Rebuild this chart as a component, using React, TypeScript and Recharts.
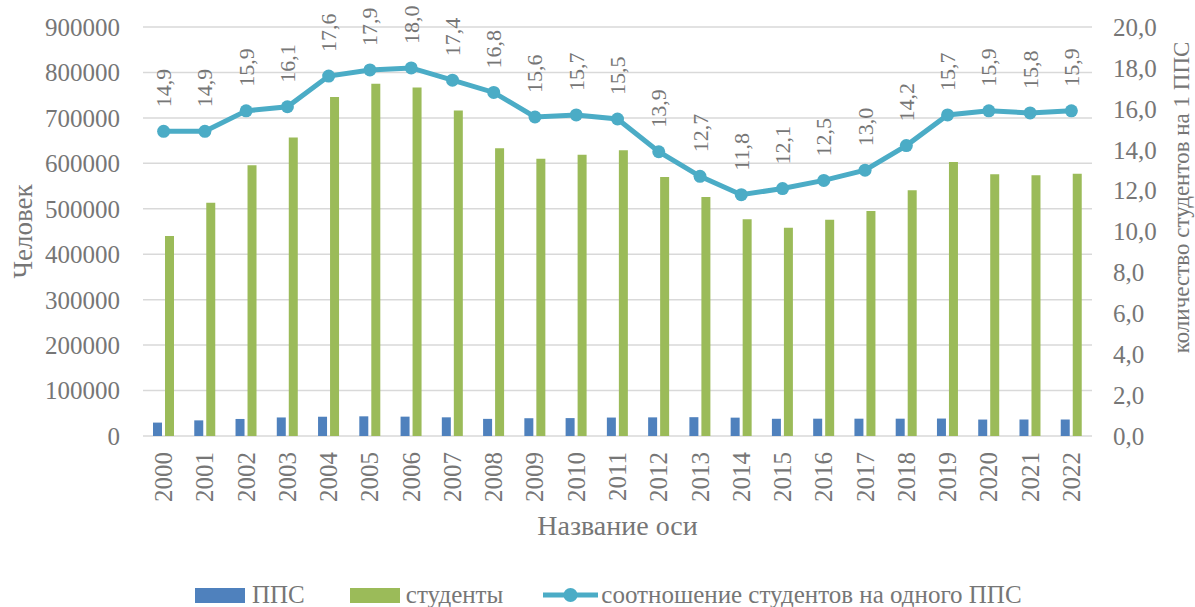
import React from 'react';
import {
  ComposedChart,
  Bar,
  Line,
  XAxis,
  YAxis,
  CartesianGrid,
  Legend,
  LabelList,
  Label,
} from 'recharts';

const years = [
  '2000', '2001', '2002', '2003', '2004', '2005', '2006', '2007', '2008', '2009', '2010', '2011',
  '2012', '2013', '2014', '2015', '2016', '2017', '2018', '2019', '2020', '2021', '2022',
];

const pps = [
  29500, 34400, 37500, 40800, 42400, 43300, 42600, 41100, 37700, 39100, 39400, 40600,
  41000, 41400, 40400, 37900, 38100, 38100, 38100, 38400, 36200, 36300, 36300,
];

const students = [
  440000, 513000, 596000, 657000, 746000, 775000, 767000, 716000, 633000, 610000, 619000, 629000,
  570000, 526000, 477000, 458000, 476000, 495000, 541000, 603000, 576000, 574000, 577000,
];

const ratio = [
  14.9, 14.9, 15.9, 16.1, 17.6, 17.9, 18.0, 17.4, 16.8, 15.6, 15.7, 15.5,
  13.9, 12.7, 11.8, 12.1, 12.5, 13.0, 14.2, 15.7, 15.9, 15.8, 15.9,
];

const leftTicks = [0, 100000, 200000, 300000, 400000, 500000, 600000, 700000, 800000, 900000];
const rightTicks = [0, 2, 4, 6, 8, 10, 12, 14, 16, 18, 20];

const seriesNames = {
  pps: 'ППС',
  students: 'студенты',
  ratio: 'соотношение студентов на одного ППС',
};
const xTitle = 'Название оси';
const leftTitle = 'Человек';
const rightTitle = 'количество студентов на 1 ППС';

const data = years.map((y, i) => ({
  year: y,
  pps: pps[i],
  students: students[i],
  ratio: ratio[i],
}));

const FONT = '"Liberation Serif", "Times New Roman", serif';
const TEXT = '#767676';
const BLUE = '#4F81BD';
const GREEN = '#9BBB59';
const TEAL = '#4BACC6';
const GRID = '#D9D9D9';

const fmtRatio = (v: number) => v.toFixed(1).replace('.', ',');

const XTick = (props: any) => {
  const { x, y, payload } = props;
  return (
    <text
      x={x}
      y={y}
      transform={`rotate(-90, ${x}, ${y})`}
      textAnchor="end"
      dominantBaseline="central"
      fill={TEXT}
      fontSize={25}
      fontFamily={FONT}
    >
      {payload.value}
    </text>
  );
};

const RatioLabel = (props: any) => {
  const { x, y, value } = props;
  const ty = y - 24;
  return (
    <text
      x={x}
      y={ty}
      transform={`rotate(-90, ${x}, ${ty})`}
      textAnchor="start"
      dominantBaseline="central"
      fill={TEXT}
      fontSize={22}
      fontFamily={FONT}
    >
      {fmtRatio(Number(value))}
    </text>
  );
};

const LeftTitle = (props: any) => {
  const { viewBox } = props;
  const cx = viewBox.x + 23;
  const cy = viewBox.y + viewBox.height / 2;
  return (
    <text
      x={cx}
      y={cy}
      transform={`rotate(-90, ${cx}, ${cy})`}
      textAnchor="middle"
      dominantBaseline="central"
      fill={TEXT}
      fontSize={27}
      fontFamily={FONT}
    >
      {leftTitle}
    </text>
  );
};

const RightTitle = (props: any) => {
  const { viewBox } = props;
  const cx = viewBox.x + 89;
  const cy = viewBox.y + viewBox.height / 2 - 34;
  return (
    <text
      x={cx}
      y={cy}
      transform={`rotate(-90, ${cx}, ${cy})`}
      textAnchor="middle"
      dominantBaseline="central"
      fill={TEXT}
      fontSize={23}
      fontFamily={FONT}
    >
      {rightTitle}
    </text>
  );
};

const LegendContent = () => {
  const textStyle: React.CSSProperties = {
    fontFamily: FONT,
    fontSize: 25,
    color: TEXT,
    lineHeight: '30px',
    whiteSpace: 'nowrap',
  };
  return (
    <div style={{ display: 'flex', alignItems: 'center', height: 30, paddingLeft: 195 }}>
      <div style={{ width: 50, height: 15, background: BLUE, marginRight: 7 }} />
      <span style={textStyle}>{seriesNames.pps}</span>
      <div style={{ width: 50, height: 15, background: GREEN, marginLeft: 45, marginRight: 6 }} />
      <span style={textStyle}>{seriesNames.students}</span>
      <svg width={55} height={20} style={{ marginLeft: 40, marginRight: 3 }}>
        <line x1={0} y1={10} x2={55} y2={10} stroke={TEAL} strokeWidth={5} />
        <circle cx={27.5} cy={10} r={7} fill={TEAL} />
      </svg>
      <span style={textStyle}>{seriesNames.ratio}</span>
    </div>
  );
};

export default function App() {
  return (
    <div style={{ position: 'absolute', left: 0, top: 0, width: 1195, height: 607, background: '#fff' }}>
      <ComposedChart
        width={1195}
        height={607}
        data={data}
        margin={{ top: 27, right: 0, bottom: 36, left: 0 }}
        barSize={9}
        barGap={3}
      >
        <CartesianGrid
          yAxisId="left"
          vertical={false}
          stroke={GRID}
          strokeWidth={1.5}
        />
        <XAxis
          dataKey="year"
          height={105}
          tickLine={false}
          axisLine={false}
          tickSize={0}
          tickMargin={16}
          interval={0}
          tick={<XTick />}
        >
          <Label
            value={xTitle}
            position="insideBottom"
            offset={6}
            fill={TEXT}
            fontSize={28}
            fontFamily={FONT}
          />
        </XAxis>
        <YAxis
          yAxisId="left"
          width={143}
          domain={[0, 900000]}
          ticks={leftTicks}
          interval={0}
          tickLine={false}
          axisLine={false}
          tickSize={0}
          tickMargin={23}
          tick={{ fill: TEXT, fontSize: 25, fontFamily: FONT }}
        >
          <Label content={<LeftTitle />} />
        </YAxis>
        <YAxis
          yAxisId="right"
          orientation="right"
          width={103}
          domain={[0, 20]}
          ticks={rightTicks}
          interval={0}
          tickLine={false}
          axisLine={false}
          tickSize={0}
          tickMargin={21}
          tickFormatter={fmtRatio}
          tick={{ fill: TEXT, fontSize: 25, fontFamily: FONT }}
        >
          <Label content={<RightTitle />} />
        </YAxis>
        <Legend
          verticalAlign="bottom"
          content={<LegendContent />}
          wrapperStyle={{ top: 580, bottom: 'auto', left: 0, width: 1195, height: 30 }}
        />
        <Bar
          yAxisId="left"
          dataKey="pps"
          name={seriesNames.pps}
          fill={BLUE}
          isAnimationActive={false}
        />
        <Bar
          yAxisId="left"
          dataKey="students"
          name={seriesNames.students}
          fill={GREEN}
          isAnimationActive={false}
        />
        <Line
          yAxisId="right"
          dataKey="ratio"
          name={seriesNames.ratio}
          stroke={TEAL}
          strokeWidth={5}
          dot={{ r: 6.5, fill: TEAL, stroke: TEAL, strokeWidth: 0 }}
          activeDot={false}
          isAnimationActive={false}
        >
          <LabelList dataKey="ratio" content={<RatioLabel />} />
        </Line>
      </ComposedChart>
    </div>
  );
}
